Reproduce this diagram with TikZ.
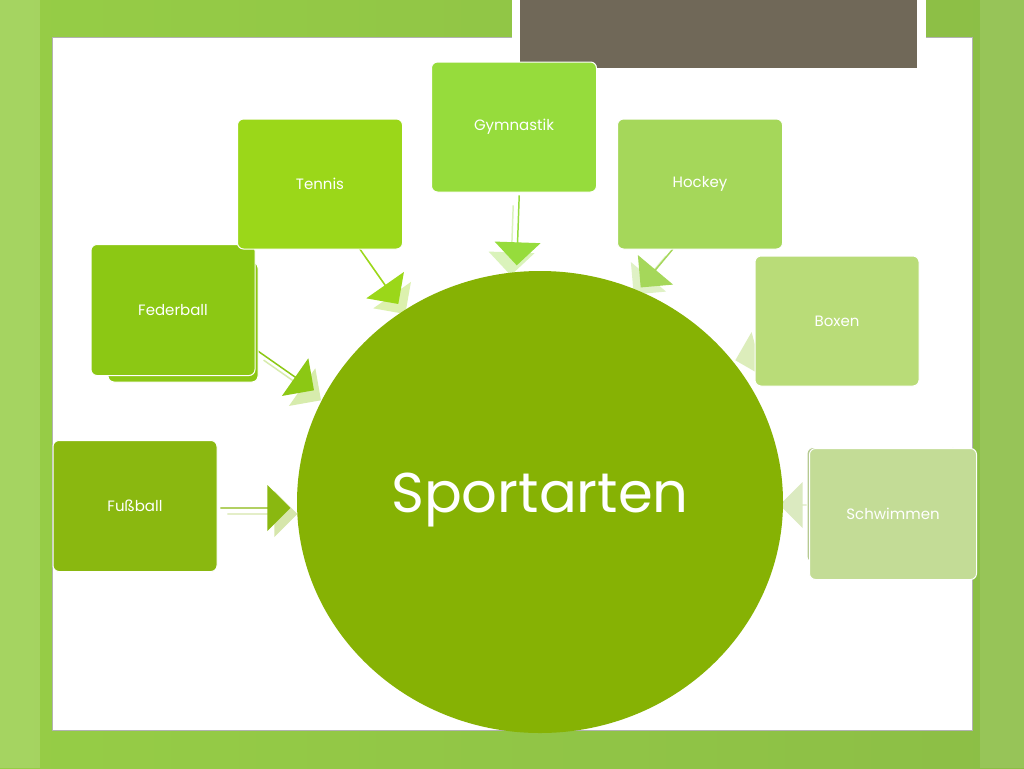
\documentclass[tikz,border=0pt]{standalone}
\usepackage{fontspec}
\setmainfont{Poppins}
\usetikzlibrary{shapes.arrows}
\begin{document}
\begin{tikzpicture}[x=1pt,y=-1pt,
 box/.style={rounded corners=6pt,draw=white,line width=1pt,text=white,font=\fontsize{15}{18}\selectfont},
 barrow/.style={single arrow,minimum height=#1,minimum width=46pt,single arrow head extend=6pt,inner sep=0pt}]
\definecolor{bgl}{RGB}{150,205,70}\definecolor{bgr}{RGB}{140,190,70}\definecolor{brn}{RGB}{112,104,88}
\definecolor{c1}{RGB}{138,184,16}\definecolor{c2}{RGB}{140,200,20}\definecolor{c3}{RGB}{155,215,25}
\definecolor{c4}{RGB}{150,220,60}\definecolor{c5}{RGB}{165,215,90}\definecolor{c6}{RGB}{185,220,120}
\definecolor{c7}{RGB}{195,220,150}\definecolor{cc}{RGB}{134,178,4}
\useasboundingbox (0,0) rectangle (1024,768);
\shade[left color=bgl,right color=bgr] (0,0) rectangle (1024,768);
\fill[white,opacity=0.15] (0,0) rectangle (40,768);
\fill[white,opacity=0.1] (980,0) rectangle (1024,768);
\fill[white] (52,37) rectangle (972,730);
\draw[gray!60] (52,37) rectangle (972,730);
\fill[white] (512,0) rectangle (926,76);
\fill[brn] (520,0) rectangle (917,68);
\node[barrow=70pt,fill=c1!35] (a1s) at (262,514) {};
\node[barrow=70pt,fill=c1] (a1) at (255,508) {};
\node[barrow=70pt,fill=c2!35,rotate=-35] (a2s) at (292,380) {};
\node[barrow=70pt,fill=c2,rotate=-35] (a2) at (285,370) {};
\node[barrow=70pt,fill=c3!35,rotate=-55] (a3s) at (385,285) {};
\node[barrow=70pt,fill=c3,rotate=-55] (a3) at (378,275) {};
\node[barrow=70pt,fill=c4!35,rotate=-92] (a4s) at (512,240) {};
\node[barrow=70pt,fill=c4,rotate=-92] (a4) at (518,230) {};
\node[barrow=50pt,fill=c5!35,rotate=-130] (a5s) at (650,275) {};
\node[barrow=50pt,fill=c5,rotate=-130] (a5) at (657,268) {};
\node[barrow=40pt,fill=c6!50,rotate=-165] (a6) at (755,355) {};
\node[barrow=40pt,fill=c7!60,rotate=180] (a7) at (800,505) {};
\fill[cc] (540,502) ellipse[x radius=243,y radius=231];
\node[text=white,font=\fontsize{56}{60}\selectfont] (t) at (540,500) {Sportarten};
\node[box,fill=c1,minimum width=164pt,minimum height=131pt] (b1) at (135,506) {Fußball};
\node[box,fill=c2,minimum width=150pt,minimum height=120pt] (b2s) at (183,322) {};
\node[box,fill=c2,minimum width=164pt,minimum height=131pt] (b2) at (173,310) {Federball};
\node[box,fill=c3,minimum width=165pt,minimum height=130pt] (b3) at (320,184) {Tennis};
\node[box,fill=c4,minimum width=165pt,minimum height=130pt] (b4) at (514,127) {Gymnastik};
\node[box,fill=c5,minimum width=165pt,minimum height=130pt] (b5) at (700,184) {Hockey};
\node[box,fill=c6,minimum width=164pt,minimum height=130pt] (b6) at (837,321) {Boxen};
\node[box,fill=c7!80!gray,minimum width=150pt,minimum height=115pt] (b7s) at (882,505) {};
\node[box,fill=c7,minimum width=167pt,minimum height=131pt] (b7) at (893,514) {Schwimmen};
\end{tikzpicture}
\end{document}
